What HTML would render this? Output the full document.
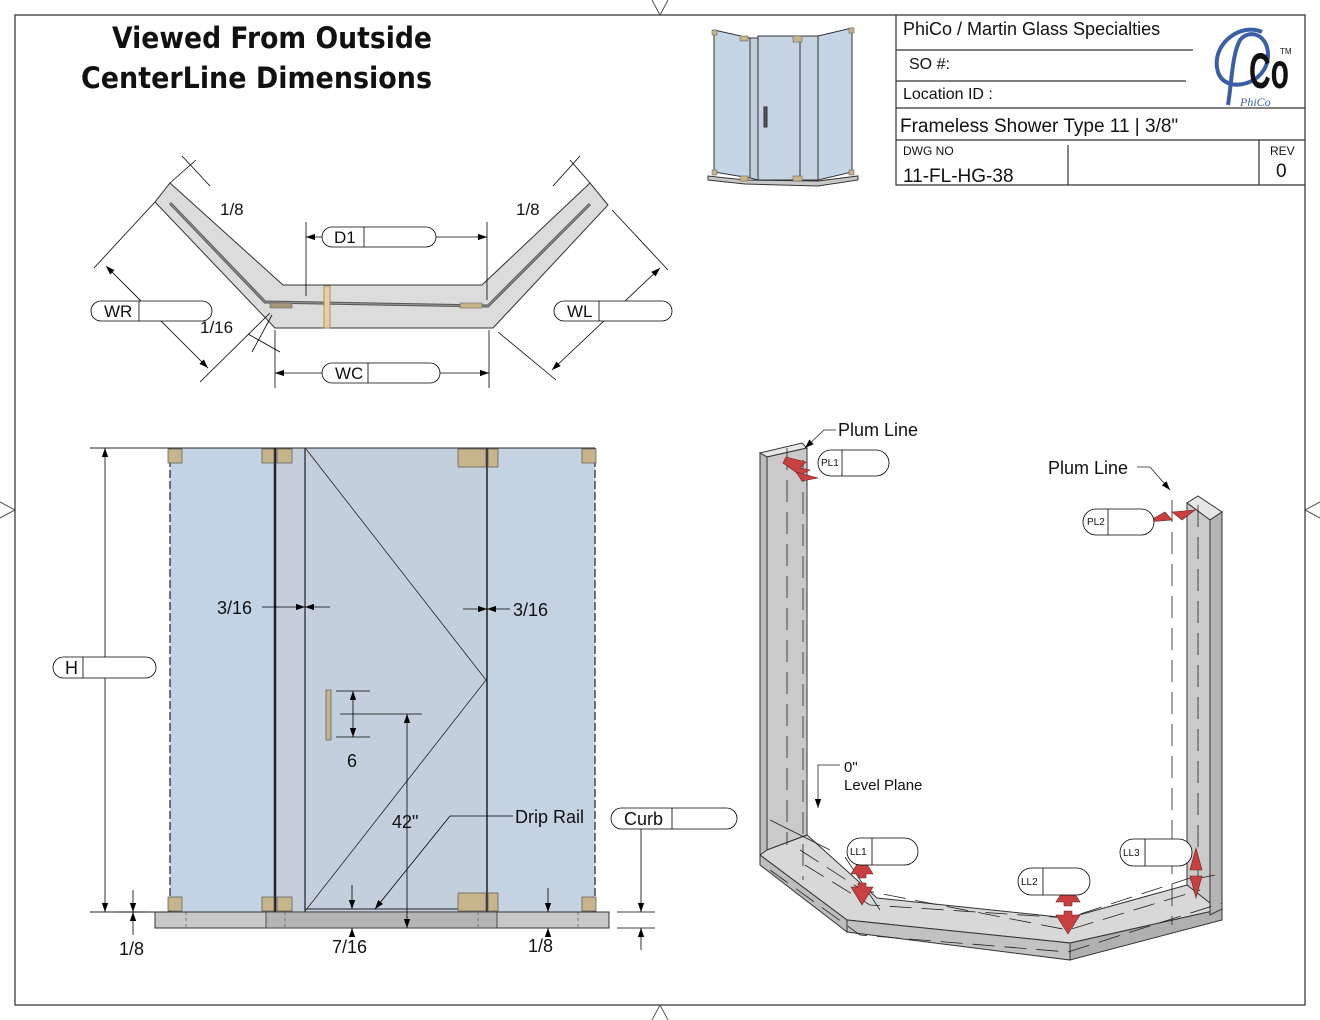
<!DOCTYPE html>
<html><head><meta charset="utf-8"><style>
html,body{margin:0;padding:0;background:#fff;}
svg{display:block;font-family:"Liberation Sans","DejaVu Sans",sans-serif;}
</style></head><body>
<svg width="1320" height="1020" viewBox="0 0 1320 1020" xmlns="http://www.w3.org/2000/svg">
<defs>
<marker id="a" viewBox="0 0 10 10" refX="10" refY="5" markerWidth="9" markerHeight="9" orient="auto-start-reverse" markerUnits="userSpaceOnUse"><path d="M0,1.5 L10,5 L0,8.5z" fill="#000"/></marker>
</defs>
<rect x="0" y="0" width="1320" height="1020" fill="#fff"/>
<rect x="15" y="15" width="1290" height="990" fill="none" stroke="#555" stroke-width="1.5"/>
<g stroke="#555" fill="none" stroke-width="1">
<path d="M652,0 L660,15 L668,0"/><path d="M652,1020 L660,1005 L668,1020"/>
<path d="M0,502 L15,510 L0,518"/><path d="M1320,502 L1305,510 L1320,518"/>
</g>
<text x="112" y="48" font-size="29" fill="#111" font-family="DejaVu Sans" font-weight="bold" textLength="320" lengthAdjust="spacingAndGlyphs">Viewed From Outside</text>
<text x="81" y="88" font-size="29" fill="#111" font-family="DejaVu Sans" font-weight="bold" textLength="351" lengthAdjust="spacingAndGlyphs">CenterLine Dimensions</text>

<g stroke="#333" stroke-width="1.2" fill="none">
<path d="M896,15 V185 H1305"/>
<path d="M896,50 H1193 M896,81 H1186 M896,108 H1305 M896,140 H1305 M1068,145 V185 M1259,140 V185"/>
</g>
<g fill="#111">
<text x="903" y="35" font-size="18">PhiCo / Martin Glass Specialties</text>
<text x="909" y="69" font-size="16">SO #:</text>
<text x="903" y="99" font-size="16">Location ID :</text>
<text x="900" y="132" font-size="19">Frameless Shower Type 11 | 3/8"</text>
<text x="903" y="155" font-size="12">DWG NO</text>
<text x="903" y="182" font-size="19">11-FL-HG-38</text>
<text x="1270" y="155" font-size="12">REV</text>
<text x="1276" y="177" font-size="19">0</text>
</g>
<g>
<path d="M1262,32 C1240,22 1210,45 1218,72 C1225,95 1268,85 1268,55 C1268,35 1250,28 1240,40 C1232,55 1232,80 1228,105" fill="none" stroke="#3a5fa6" stroke-width="4"/>
<text x="1249" y="88" font-size="50" font-weight="bold" fill="#111" textLength="40" lengthAdjust="spacingAndGlyphs">Co</text>
<text x="1280" y="54" font-size="8" fill="#111">TM</text>
<text x="1240" y="106" font-size="12" fill="#3a5fa6" font-style="italic" font-family="Liberation Serif">PhiCo</text>
</g>

<g stroke="#333" stroke-width="1">
<polygon points="714,30 750,38 750,178 714,172" fill="#c5d5e6"/>
<polygon points="750,38 758,38 758,180 750,178" fill="#c3d0dc"/>
<polygon points="758,36 800,36 800,180 758,180" fill="#c5d3e2"/>
<polygon points="800,36 818,36 818,180 800,180" fill="#c5d3e2"/>
<polygon points="818,36 852,28 852,172 818,180" fill="#c5d5e6"/>
<polygon points="708,180 745,184 818,186 858,180 858,176 818,181 745,180 708,176" fill="#c8c8c8"/>
<rect x="764" y="107" width="3" height="20" fill="#555"/>
</g>
<g fill="#c8b48a" stroke="#555" stroke-width="0.5">
<rect x="712" y="30" width="5" height="5"/><rect x="740" y="36" width="8" height="5"/><rect x="793" y="36" width="9" height="6"/><rect x="849" y="28" width="5" height="5"/>
<rect x="712" y="170" width="5" height="5"/><rect x="740" y="176" width="8" height="5"/><rect x="793" y="176" width="9" height="5"/><rect x="849" y="170" width="5" height="5"/>
</g>

<!-- PLAN VIEW -->
<polygon points="170,183 283,285 482,285 590,183 608,205 493,328 275,328 155,202" fill="#dcdcdc" stroke="#333" stroke-width="1"/>
<polyline points="170,203 265,302 488,306 590,204" fill="none" stroke="#555" stroke-width="3"/>
<polyline points="170,203 265,302 488,306 590,204" fill="none" stroke="#999" stroke-width="1"/>
<rect x="324" y="286" width="6" height="42" fill="#e8cfa2" stroke="#a08050" stroke-width="0.8"/>
<rect x="270" y="303" width="22" height="5" fill="#a89878" stroke="#555" stroke-width="0.5"/>
<rect x="460" y="303" width="22" height="5" fill="#c8b48a" stroke="#555" stroke-width="0.5"/>
<g stroke="#000" stroke-width="0.8" fill="none">
<line x1="306" y1="222" x2="306" y2="296"/><line x1="487" y1="222" x2="487" y2="300"/>
<line x1="306" y1="237" x2="487" y2="237" marker-start="url(#a)" marker-end="url(#a)"/>
<line x1="275" y1="330" x2="275" y2="388"/><line x1="489" y1="330" x2="489" y2="388"/>
<line x1="275" y1="373" x2="489" y2="373" marker-start="url(#a)" marker-end="url(#a)"/>
<line x1="155" y1="202" x2="94" y2="268"/><line x1="270" y1="313" x2="200" y2="382"/>
<line x1="106" y1="266" x2="208" y2="368" marker-start="url(#a)" marker-end="url(#a)"/>
<line x1="612" y1="210" x2="668" y2="270"/><line x1="498" y1="332" x2="556" y2="380"/>
<line x1="660" y1="268" x2="552" y2="370" marker-start="url(#a)" marker-end="url(#a)"/>
<line x1="170" y1="183" x2="196" y2="160"/><line x1="182" y1="156" x2="210" y2="186"/>
<line x1="590" y1="183" x2="570" y2="160"/><line x1="580" y1="156" x2="553" y2="186"/>
<line x1="272" y1="315" x2="252" y2="352"/><line x1="248" y1="334" x2="280" y2="352"/>
</g>
<g fill="#fff" stroke="#000" stroke-width="0.8">
<rect x="322" y="227" width="114" height="20" rx="10"/><line x1="364" y1="227" x2="364" y2="247"/>
<rect x="322" y="363" width="118" height="20" rx="10"/><line x1="368" y1="363" x2="368" y2="383"/>
<rect x="91" y="301" width="121" height="20" rx="10"/><line x1="139" y1="301" x2="139" y2="321"/>
<rect x="554" y="301" width="118" height="20" rx="10"/><line x1="599" y1="301" x2="599" y2="321"/>
</g>
<g font-size="17" fill="#111">
<text x="334" y="243">D1</text><text x="335" y="379">WC</text><text x="104" y="317">WR</text><text x="567" y="317">WL</text>
<text x="220" y="215">1/8</text><text x="516" y="215">1/8</text><text x="200" y="333">1/16</text>
</g>

<!-- ELEVATION -->
<rect x="170" y="448" width="105" height="464" fill="#c3d3e6"/>
<rect x="275" y="448" width="30" height="464" fill="#c5cfdb"/>
<rect x="305" y="448" width="182" height="464" fill="#c4cfdd"/>
<rect x="487" y="448" width="108" height="464" fill="#c4d2e2"/>
<g stroke="#222" fill="none">
<line x1="90" y1="448" x2="595" y2="448" stroke-width="1"/>
<line x1="275" y1="448" x2="275" y2="912" stroke-width="2.5"/>
<line x1="305" y1="448" x2="305" y2="912" stroke-width="1.2"/>
<line x1="487" y1="448" x2="487" y2="912" stroke-width="1.5"/>
<line x1="170" y1="448" x2="170" y2="912" stroke-width="1.2" stroke-dasharray="8 3"/>
<line x1="595" y1="448" x2="595" y2="912" stroke-width="1.2" stroke-dasharray="8 3"/>
<polyline points="306,449 486,680 306,910" stroke-width="0.8"/>
<line x1="305" y1="909" x2="487" y2="909" stroke-width="1"/>
</g>
<rect x="155" y="912" width="454" height="16" fill="#c8c8c8" stroke="#333" stroke-width="1"/>
<rect x="266" y="912" width="231" height="16" fill="#b4b4b4" stroke="#333" stroke-width="0.8"/>
<g stroke="#444" stroke-width="0.6" stroke-dasharray="3 3"><line x1="186" y1="912" x2="186" y2="928"/><line x1="285" y1="912" x2="285" y2="928"/><line x1="478" y1="912" x2="478" y2="928"/><line x1="578" y1="912" x2="578" y2="928"/></g>
<line x1="90" y1="912" x2="170" y2="912" stroke="#222"/>
<g fill="#c8b48a" stroke="#555" stroke-width="0.7">
<rect x="168" y="449" width="14" height="14"/><rect x="262" y="449" width="12" height="14"/><rect x="277" y="449" width="15" height="14"/>
<rect x="458" y="449" width="28" height="18"/><rect x="488" y="449" width="10" height="18"/><rect x="582" y="449" width="14" height="14"/>
<rect x="168" y="897" width="14" height="14"/><rect x="262" y="897" width="12" height="14"/><rect x="277" y="897" width="15" height="14"/>
<rect x="458" y="893" width="28" height="18"/><rect x="488" y="893" width="10" height="18"/><rect x="582" y="897" width="14" height="14"/>
<rect x="326" y="690" width="5" height="50"/>
</g>
<g stroke="#000" stroke-width="0.8" fill="none">
<line x1="105" y1="448" x2="105" y2="912" marker-start="url(#a)" marker-end="url(#a)"/>
<line x1="118" y1="912" x2="146" y2="912"/>
<line x1="133" y1="890" x2="133" y2="912" marker-end="url(#a)"/><line x1="133" y1="935" x2="133" y2="912" marker-end="url(#a)"/>
<line x1="262" y1="607" x2="305" y2="607" marker-end="url(#a)"/><line x1="330" y1="607" x2="305" y2="607" marker-end="url(#a)"/>
<line x1="463" y1="609" x2="487" y2="609" marker-end="url(#a)"/><line x1="510" y1="609" x2="487" y2="609" marker-end="url(#a)"/>
<line x1="336" y1="691" x2="370" y2="691"/><line x1="336" y1="737" x2="370" y2="737"/>
<line x1="353" y1="691" x2="353" y2="737" marker-start="url(#a)" marker-end="url(#a)"/>
<line x1="340" y1="714" x2="422" y2="714"/>
<line x1="407" y1="714" x2="407" y2="928" marker-start="url(#a)" marker-end="url(#a)"/>
<line x1="352" y1="885" x2="352" y2="909" marker-end="url(#a)"/><line x1="352" y1="935" x2="352" y2="928" marker-end="url(#a)"/>
<line x1="548" y1="888" x2="548" y2="912" marker-end="url(#a)"/><line x1="548" y1="935" x2="548" y2="928" marker-end="url(#a)"/>
<polyline points="513,816 450,816 375,909" marker-end="url(#a)"/>
<line x1="617" y1="912" x2="655" y2="912"/><line x1="617" y1="928" x2="655" y2="928"/>
<line x1="641" y1="828" x2="641" y2="912" marker-end="url(#a)"/><line x1="641" y1="950" x2="641" y2="928" marker-end="url(#a)"/>
</g>
<g fill="#fff" stroke="#000" stroke-width="0.8">
<rect x="53" y="657" width="103" height="21" rx="10.5"/><line x1="83" y1="657" x2="83" y2="678"/>
<rect x="611" y="808" width="126" height="21" rx="10.5"/><line x1="672" y1="808" x2="672" y2="829"/>
</g>
<g font-size="18" fill="#111">
<text x="65" y="674">H</text><text x="624" y="825">Curb</text>
<text x="217" y="614">3/16</text><text x="513" y="616">3/16</text>
<text x="347" y="767">6</text><text x="392" y="828">42"</text>
<text x="515" y="823">Drip Rail</text>
<text x="119" y="955">1/8</text><text x="332" y="953">7/16</text><text x="528" y="952">1/8</text>
</g>

<!-- ISO VIEW -->
<g stroke="#333" stroke-width="1">
<polygon points="760,453 802,443 807,448 767,457" fill="#e6e6e6"/>
<polygon points="760,453 767,457 767,862 760,855" fill="#bdbdbd"/>
<polygon points="767,457 807,448 807,835 767,850" fill="#cacaca"/>
<polygon points="760,855 847,920 1070,943 1222,909 1222,893 1187,885 1068,918 877,898 807,835 767,850" fill="#d8d8d8"/>
<polygon points="760,855 847,920 847,932 760,865" fill="#bdbdbd"/>
<polygon points="847,920 1070,943 1070,960 847,932" fill="#c2c2c2"/>
<polygon points="1070,943 1222,909 1222,920 1070,960" fill="#b0b0b0"/>
<polygon points="1187,503 1198,496 1222,512 1210,520" fill="#e6e6e6"/>
<polygon points="1187,503 1210,520 1210,903 1187,885" fill="#cacaca"/>
<polygon points="1210,520 1222,512 1222,909 1210,915" fill="#b4b4b4"/>
</g>
<g stroke="#222" stroke-width="0.8" fill="none" stroke-dasharray="22 10">
<line x1="787" y1="448" x2="787" y2="845"/>
<line x1="803" y1="460" x2="803" y2="880"/>
<line x1="1172" y1="500" x2="1172" y2="925"/>
<line x1="1198" y1="505" x2="1198" y2="880"/>
<polyline points="770,870 860,935 1068,952 1222,903"/>
<polyline points="800,850 862,890 1068,930 1200,890"/>
<polyline points="805,865 870,905 1068,918 1190,878"/>
</g>
<g stroke="#222" stroke-width="0.8" fill="none">
<polyline points="836,430 824,430 805,448" marker-end="url(#a)"/>
<polyline points="1137,467 1150,467 1170,490" marker-end="url(#a)"/>
<polyline points="840,765 818,765 818,808" marker-end="url(#a)"/>
<line x1="770" y1="820" x2="830" y2="850"/>
<line x1="845" y1="857" x2="880" y2="910"/>
<line x1="1190" y1="880" x2="1215" y2="875"/>
</g>
<g fill="#c84040" stroke="#702020" stroke-width="0.6">
<polygon points="786,457 806,462 800,468 810,470 800,475 783,463"/>
<polygon points="796,472 818,478 802,481"/>
<polygon points="1147,522 1165,512 1172,520"/>
<polygon points="1172,512 1195,510 1182,520"/>
<polygon points="862,856 873,874 866,874 866,878 858,878 858,874 851,874"/>
<polygon points="862,905 873,887 866,887 866,883 858,883 858,887 851,887"/>
<polygon points="1068,883 1080,902 1072,902 1072,906 1064,906 1064,902 1056,902"/>
<polygon points="1068,934 1080,915 1072,915 1072,911 1064,911 1064,915 1056,915"/>
<polygon points="1196,848 1202,870 1190,870"/><polygon points="1196,898 1202,876 1190,876"/>
</g>
<g fill="#fff" stroke="#000" stroke-width="0.8">
<rect x="818" y="450" width="71" height="26" rx="13"/><line x1="842" y1="450" x2="842" y2="476"/>
<rect x="1083" y="509" width="71" height="26" rx="13"/><line x1="1108" y1="509" x2="1108" y2="535"/>
<rect x="847" y="838" width="71" height="27" rx="13.5"/><line x1="872" y1="838" x2="872" y2="865"/>
<rect x="1018" y="868" width="72" height="27" rx="13.5"/><line x1="1043" y1="868" x2="1043" y2="895"/>
<rect x="1120" y="839" width="72" height="27" rx="13.5"/><line x1="1145" y1="839" x2="1145" y2="866"/>
</g>
<g font-size="10" fill="#111">
<text x="821" y="466">PL1</text><text x="1087" y="525">PL2</text><text x="850" y="855">LL1</text><text x="1021" y="885">LL2</text><text x="1123" y="856">LL3</text>
</g>
<g font-size="18" fill="#111">
<text x="838" y="436">Plum Line</text><text x="1048" y="474">Plum Line</text>
</g>
<text x="844" y="772" font-size="15" fill="#111">0"</text>
<text x="844" y="790" font-size="15" fill="#111">Level Plane</text>
</svg>
</body></html>
